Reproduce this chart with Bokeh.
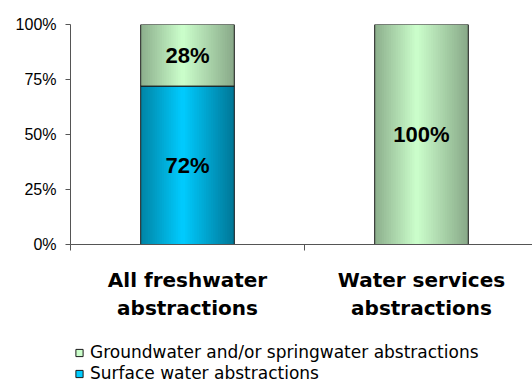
import numpy as np
from bokeh.plotting import figure
from bokeh.layouts import column
from bokeh.models import (ColumnDataSource, FixedTicker, LinearAxis, Legend,
                          LegendItem, Range1d, PrintfTickFormatter)
from bokeh.core.properties import value
from bokeh.embed import file_html
from bokeh.resources import INLINE

# --- data -------------------------------------------------------------
category_labels = ["All freshwater\nabstractions", "Water services\nabstractions"]
surface_pct = [72, 0]
ground_pct = [28, 100]
surface_name = "Surface water abstractions"
ground_name = "Groundwater and/or springwater abstractions"
y_ticks = [0, 25, 50, 75, 100]

# --- styling ----------------------------------------------------------
BAR_W = 0.4
N_STRIPS = 40
SURFACE_STOPS = [(0.0, (0x00, 0x84, 0xa6)), (0.45, (0x00, 0xcc, 0xff)), (1.0, (0x00, 0x76, 0x96))]
GROUND_STOPS = [(0.0, (0x8c, 0xae, 0x8c)), (0.45, (0xcc, 0xff, 0xcc)), (1.0, (0x88, 0xa8, 0x88))]
SURFACE_SOLID = "#00ccff"
GROUND_SOLID = "#ccffcc"
EDGE = "#1a1a1a"
AXIS = "#555555"


def ramp(stops, t):
    for (t0, c0), (t1, c1) in zip(stops[:-1], stops[1:]):
        if t <= t1:
            f = (t - t0) / (t1 - t0)
            rgb = [round(a + (b - a) * f) for a, b in zip(c0, c1)]
            return "#%02x%02x%02x" % tuple(rgb)
    return "#%02x%02x%02x" % stops[-1][1]


n = len(category_labels)
centers = np.arange(n) + 0.5
surface = np.array(surface_pct, dtype=float)
ground = np.array(ground_pct, dtype=float)
series = [
    (surface, np.zeros(n), SURFACE_STOPS),
    (ground, surface, GROUND_STOPS),
]

# --- main chart -------------------------------------------------------
p = figure(width=532, height=335, output_backend="svg", toolbar_location=None,
           x_range=Range1d(0, 1.9744), y_range=Range1d(0, 100),
           x_axis_type=None, y_axis_type=None,
           min_border_left=70, min_border_right=0, min_border_top=24,
           min_border_bottom=91)
p.outline_line_color = None
p.grid.visible = False

for vals, bottoms, stops in series:
    keep = vals > 0
    xs, tops, bots = centers[keep], (bottoms + vals)[keep], bottoms[keep]
    base = ColumnDataSource(dict(x=xs, top=tops, bottom=bots))

    # shaded fill built from thin, overlapping vertical strips across each bar
    sx, st, sb, sc, sw = [], [], [], [], []
    step = BAR_W / N_STRIPS
    for c, t, b in zip(xs, tops, bots):
        for k in range(N_STRIPS):
            frac = (k + 0.5) / N_STRIPS
            left = c - BAR_W / 2 + k * step
            right = min(left + 2 * step, c + BAR_W / 2)
            sx.append((left + right) / 2)
            sw.append(right - left)
            st.append(t)
            sb.append(b)
            sc.append(ramp(stops, frac))
    strips = ColumnDataSource(dict(x=sx, w=sw, top=st, bottom=sb, color=sc))
    p.vbar(x="x", top="top", bottom="bottom", width="w",
           source=strips, fill_color="color", line_color=None)
    p.vbar(x="x", top="top", bottom="bottom", width=BAR_W, source=base,
           fill_alpha=0, line_color=EDGE, line_width=1)

    labels = ColumnDataSource(dict(x=xs, y=bots + vals[keep] / 2,
                                   text=[f"{v:g}%" for v in vals[keep]]))
    p.text(x="x", y="y", text="text", source=labels, text_align="center",
           text_baseline="middle", text_font=value("Liberation Sans"),
           text_font_style="bold", text_font_size="22px", text_color="black")

# y axis with percent ticks
yaxis = LinearAxis(ticker=FixedTicker(ticks=y_ticks),
                   formatter=PrintfTickFormatter(format="%d%%"))
yaxis.axis_line_color = AXIS
yaxis.major_tick_line_color = AXIS
yaxis.major_tick_out = 5
yaxis.major_tick_in = 0
yaxis.minor_tick_line_color = None
yaxis.major_label_standoff = 9
yaxis.major_label_text_font = "Liberation Sans"
yaxis.major_label_text_font_size = "16px"
yaxis.major_label_text_color = "black"
p.add_layout(yaxis, "left")

# category axis: labels at centres, ticks on the boundaries
xaxis = LinearAxis(ticker=FixedTicker(ticks=list(centers),
                                      minor_ticks=list(range(n + 1))))
xaxis.major_label_overrides = {float(c): lab for c, lab in zip(centers, category_labels)}
xaxis.axis_line_color = AXIS
xaxis.major_tick_line_color = None
xaxis.minor_tick_line_color = AXIS
xaxis.minor_tick_out = 6
xaxis.minor_tick_in = 0
xaxis.major_label_standoff = 17
xaxis.major_label_text_font = "DejaVu Sans"
xaxis.major_label_text_font_style = "bold"
xaxis.major_label_text_font_size = "20px"
xaxis.major_label_text_color = "black"
p.add_layout(xaxis, "below")

# --- legend strip -----------------------------------------------------
leg = figure(width=532, height=48, output_backend="svg", toolbar_location=None,
             x_range=Range1d(0, 1), y_range=Range1d(0, 1),
             x_axis_type=None, y_axis_type=None,
             min_border_left=61, min_border_right=0, min_border_top=7,
             min_border_bottom=0)
leg.outline_line_color = None
leg.grid.visible = False
# swatch proxies sit outside the visible range; only their legend glyphs show
proxy = dict(x=[-5], y=[-5])
g_sw = leg.scatter(x="x", y="y", marker="square", size=8,
                   source=ColumnDataSource(proxy), fill_color=GROUND_SOLID,
                   line_color=EDGE, line_width=1)
s_sw = leg.scatter(x="x", y="y", marker="square", size=8,
                   source=ColumnDataSource(proxy), fill_color=SURFACE_SOLID,
                   line_color=EDGE, line_width=1)
legend = Legend(items=[LegendItem(label=ground_name, renderers=[g_sw]),
                       LegendItem(label=surface_name, renderers=[s_sw])],
                location="top_left", orientation="vertical",
                border_line_color=None, background_fill_alpha=0,
                padding=0, margin=0, spacing=1,
                glyph_width=18, glyph_height=19, label_height=19,
                label_standoff=2, label_text_font="DejaVu Sans",
                label_text_font_size="17px", label_text_color="black")
leg.add_layout(legend, "center")

layout = column(p, leg, spacing=0)
open("out.html", "w").write(file_html(layout, INLINE))
